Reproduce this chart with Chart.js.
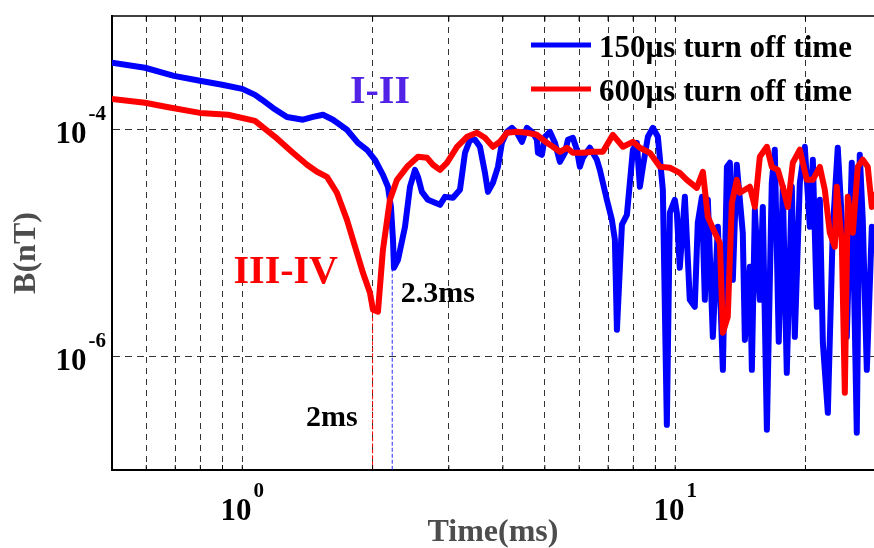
<!DOCTYPE html>
<html>
<head>
<meta charset="utf-8">
<script src="https://cdn.jsdelivr.net/npm/chart.js@4.4.1/dist/chart.umd.min.js"></script>
<style>
	html, body { margin: 0; padding: 0; background: #fff; }
	#wrap { width: 874px; height: 548px; }
</style>
</head>
<body>
<div id="wrap"><canvas id="decayChart" width="874" height="548"></canvas></div>
<script>
// series (time in ms, field in nT)
const seriesLabels = ['150\u00b5s turn off time', '600\u00b5s turn off time'];

const time150 = [0.5, 0.596, 0.695, 0.798, 0.898, 1.0, 1.07, 1.11, 1.177, 1.268, 1.381, 1.457, 1.536, 1.62, 1.745, 1.85, 1.941, 2.025, 2.113, 2.17, 2.205, 2.229, 2.241, 2.289, 2.376, 2.44, 2.506, 2.546, 2.6, 2.685, 2.862, 2.939, 3.067, 3.183, 3.269, 3.357, 3.448, 3.54, 3.636, 3.694, 3.793, 3.896, 3.979, 4.086, 4.197, 4.31, 4.426, 4.545, 4.693, 4.793, 4.819, 4.922, 5.002, 5.136, 5.275, 5.417, 5.563, 5.652, 5.804, 5.929, 6.024, 6.121, 6.353, 6.594, 6.7, 6.955, 7.142, 7.257, 7.336, 7.454, 7.534, 7.736, 7.987, 8.158, 8.289, 8.423, 8.65, 8.883, 9.121, 9.367, 9.568, 9.723, 9.98, 10.09, 10.25, 10.53, 10.81, 11.1, 11.28, 11.53, 11.71, 11.9, 12.22, 12.55, 12.89, 13.17, 13.38, 13.59, 13.88, 14.33, 14.49, 14.88, 15.04, 15.28, 15.69, 15.94, 16.29, 16.72, 16.99, 17.35, 17.73, 18.11, 18.6, 18.9, 19.41, 19.93, 20.47, 20.8, 21.25, 21.59, 21.94, 22.53, 23.13, 23.75, 24.27, 24.92, 25.59, 26.28, 26.7, 27.13, 27.72, 28.47, 28.8];
const field150 = [3.87e-4, 3.5e-4, 2.97e-4, 2.69e-4, 2.48e-4, 2.28e-4, 2.02e-4, 1.83e-4, 1.55e-4, 1.29e-4, 1.22e-4, 1.29e-4, 1.35e-4, 1.22e-4, 9.94e-5, 7.63e-5, 6.63e-5, 5.41e-5, 3.99e-5, 3.13e-5, 2.08e-5, 1.07e-5, 6.05e-6, 7.11e-6, 1.39e-5, 3.13e-5, 4.41e-5, 3.83e-5, 2.82e-5, 2.4e-5, 2.17e-5, 2.55e-5, 2.5e-5, 2.94e-5, 6.23e-5, 8.11e-5, 8.11e-5, 7.04e-5, 4.15e-5, 2.82e-5, 3.39e-5, 4.69e-5, 7.63e-5, 9.54e-5, 1.035e-4, 9.35e-5, 7.79e-5, 1.035e-4, 9.35e-5, 8.11e-5, 6.23e-5, 5.99e-5, 8.62e-5, 9.54e-5, 7.63e-5, 5.19e-5, 6.23e-5, 8.11e-5, 8.45e-5, 6.63e-5, 4.69e-5, 5.63e-5, 6.9e-5, 5.41e-5, 4.41e-5, 2.4e-5, 1.6e-5, 1.07e-5, 1.72e-6, 6.17e-6, 1.45e-5, 1.77e-5, 6.63e-5, 7.63e-5, 3.13e-5, 4.69e-5, 8.62e-5, 1.035e-4, 8.62e-5, 2.94e-5, 2.5e-7, 1.85e-5, 2.4e-5, 1.85e-5, 6.05e-6, 2.55e-5, 3.16e-6, 2.74e-6, 1.51e-5, 2.55e-5, 3.16e-6, 2.4e-5, 1.49e-6, 1.39e-5, 7.63e-7, 4.69e-5, 5.09e-5, 4.74e-6, 4.89e-5, 1.23e-5, 1.4e-6, 6.17e-6, 7.63e-7, 1.96e-5, 3.16e-6, 2.08e-5, 2.26e-7, 3.39e-5, 6.63e-5, 1.35e-6, 3.13e-5, 7.18e-7, 3.13e-5, 1.49e-6, 3.39e-5, 7.04e-5, 1.39e-5, 5.41e-5, 2.74e-6, 2.4e-5, 1.32e-6, 3.19e-7, 1.31e-5, 6.9e-5, 1.6e-5, 1.49e-6, 5.09e-5, 2.13e-7, 5.99e-5, 1.6e-5, 7.63e-7, 1.39e-5, 8.71e-6];

const time600 = [0.5, 0.596, 0.67, 0.798, 0.927, 1.07, 1.19, 1.309, 1.411, 1.488, 1.569, 1.654, 1.745, 1.84, 1.9, 1.972, 2.004, 2.058, 2.113, 2.193, 2.277, 2.402, 2.546, 2.671, 2.757, 2.862, 2.97, 3.133, 3.304, 3.484, 3.636, 3.793, 3.937, 4.086, 4.31, 4.545, 4.793, 5.055, 5.219, 5.417, 5.622, 5.804, 6.121, 6.455, 6.808, 7.18, 7.574, 7.987, 8.289, 8.742, 9.219, 9.723, 10.25, 10.64, 11.22, 11.59, 11.9, 12.35, 12.69, 12.89, 13.23, 13.52, 13.88, 14.11, 14.88, 15.28, 15.69, 16.29, 16.72, 17.27, 17.73, 18.21, 18.7, 19.41, 20.15, 20.8, 21.59, 22.17, 22.77, 23.38, 23.62, 24.27, 24.66, 25.05, 25.73, 26.42, 27.13, 27.86, 28.47, 28.8];
const field600 = [1.86e-4, 1.72e-4, 1.58e-4, 1.4e-4, 1.35e-4, 1.19e-4, 8.62e-5, 6.23e-5, 4.89e-5, 4.24e-5, 3.83e-5, 2.77e-5, 1.6e-5, 8.2e-6, 5.46e-6, 3.64e-6, 2.58e-6, 2.48e-6, 8.71e-6, 2.4e-5, 3.6e-5, 4.69e-5, 5.75e-5, 5.63e-5, 4.89e-5, 4.41e-5, 5.09e-5, 7.04e-5, 8.62e-5, 9.35e-5, 8.45e-5, 7.04e-5, 7.79e-5, 9.35e-5, 9.54e-5, 9.35e-5, 8.98e-5, 7.63e-5, 7.04e-5, 6.36e-5, 6.9e-5, 6.23e-5, 6.23e-5, 6.36e-5, 6.36e-5, 8.98e-5, 7.04e-5, 7.79e-5, 6.9e-5, 6.23e-5, 4.69e-5, 4.6e-5, 4.15e-5, 3.6e-5, 3.06e-5, 4.24e-5, 1.7e-5, 1.23e-5, 1.0e-5, 1.62e-6, 2.24e-6, 2.26e-5, 3.6e-5, 2.77e-5, 3.13e-5, 2.08e-5, 5.75e-5, 7.04e-5, 4.69e-5, 4.41e-5, 3.13e-5, 2.08e-5, 5.09e-5, 6.63e-5, 3.6e-5, 3.6e-5, 4.69e-5, 2.94e-5, 1.23e-5, 9.26e-6, 3.13e-5, 1.0e-5, 4.79e-7, 2.55e-5, 1.23e-5, 4.69e-5, 5.41e-5, 4.69e-5, 2.08e-5, 2.66e-5];

// axes
const xRange = [0.5, 28.8];
const yRange = [1e-7, 1e-3];
const xGridTicks = [0.6, 0.7, 0.8, 0.9, 1, 2, 3, 4, 5, 6, 7, 8, 9, 10, 20];
const yGridTicks = [1e-6, 1e-4];
const xLabelExps = [0, 1];
const yLabelExps = [-4, -6];

// turning points marked on the plot
const markTimes = [2.0, 2.22];
const markFields = [2.5e-6, 6.05e-6];
const markColors = ['#ff0000', '#2a2aff'];

const noteTexts = ['I-II', 'III-IV', '2.3ms', '2ms'];
const noteTimes = [2.08, 1.26, 2.83, 1.61];
const noteFields = [1.72e-4, 4.46e-6, 3.03e-6, 2.45e-7];
const noteColors = ['#5222e6', '#ff0000', '#000000', '#000000'];
const noteSizes = [40, 40, 30, 30];

const SERIF = "'Liberation Serif', 'Times New Roman', serif";

function toPoints(xs, ys) {
	return xs.map((x, i) => ({ x: x, y: ys[i] }));
}

const overlay = {
	id: 'overlay',
	beforeDatasetsDraw(chart) {
		const { ctx, chartArea, scales } = chart;
		ctx.save();
		ctx.lineWidth = 1;
		ctx.setLineDash([4, 2]);
		markTimes.forEach((t, i) => {
			const px = scales.x.getPixelForValue(t);
			ctx.strokeStyle = markColors[i];
			ctx.beginPath();
			ctx.moveTo(px, scales.y.getPixelForValue(markFields[i]));
			ctx.lineTo(px, chartArea.bottom);
			ctx.stroke();
		});
		ctx.restore();
	},
	afterDraw(chart) {
		const { ctx, chartArea, scales } = chart;
		ctx.save();

		// top frame line + inward ticks
		ctx.strokeStyle = '#000';
		ctx.lineWidth = 1.5;
		ctx.beginPath();
		ctx.moveTo(chartArea.left, chartArea.top);
		ctx.lineTo(chartArea.right, chartArea.top);
		ctx.stroke();
		ctx.lineWidth = 1;
		xGridTicks.forEach((v) => {
			const px = scales.x.getPixelForValue(v);
			ctx.beginPath();
			ctx.moveTo(px, chartArea.top);
			ctx.lineTo(px, chartArea.top + 5);
			ctx.moveTo(px, chartArea.bottom);
			ctx.lineTo(px, chartArea.bottom - 5);
			ctx.stroke();
		});

		// tick labels as powers of ten
		ctx.fillStyle = '#000';
		ctx.textBaseline = 'alphabetic';
		ctx.textAlign = 'left';
		xLabelExps.forEach((e) => {
			const px = scales.x.getPixelForValue(Math.pow(10, e));
			ctx.font = 'bold 31px ' + SERIF;
			const w1 = ctx.measureText('10').width;
			ctx.font = 'bold 21px ' + SERIF;
			const w2 = ctx.measureText(String(e)).width;
			const x0 = px - (w1 + 2 + w2) / 2;
			ctx.font = 'bold 31px ' + SERIF;
			ctx.fillText('10', x0, chartArea.bottom + 50);
			ctx.font = 'bold 21px ' + SERIF;
			ctx.fillText(String(e), x0 + w1 + 2, chartArea.bottom + 27);
		});
		yLabelExps.forEach((e) => {
			const py = scales.y.getPixelForValue(Math.pow(10, e));
			const end = chartArea.left - 6;
			ctx.font = 'bold 21px ' + SERIF;
			const w2 = ctx.measureText(String(e)).width;
			ctx.fillText(String(e), end - w2, py - 10);
			ctx.font = 'bold 31px ' + SERIF;
			const w1 = ctx.measureText('10').width;
			ctx.fillText('10', end - w2 - 2 - w1, py + 13);
		});

		// axis titles
		ctx.fillStyle = '#4d4d4d';
		ctx.font = 'bold 32px ' + SERIF;
		ctx.textAlign = 'center';
		ctx.fillText('Time(ms)', (chartArea.left + chartArea.right) / 2, chartArea.bottom + 71);
		ctx.save();
		ctx.translate(35, 253);
		ctx.rotate(-Math.PI / 2);
		ctx.fillText('B(nT)', 0, 0);
		ctx.restore();

		// notes
		noteTexts.forEach((txt, i) => {
			ctx.fillStyle = noteColors[i];
			ctx.font = 'bold ' + noteSizes[i] + 'px ' + SERIF;
			ctx.fillText(txt, scales.x.getPixelForValue(noteTimes[i]), scales.y.getPixelForValue(noteFields[i]));
		});

		// legend
		ctx.textAlign = 'left';
		ctx.font = 'bold 31px ' + SERIF;
		chart.data.datasets.forEach((ds, i) => {
			const ly = chartArea.top + 29 + i * 44;
			ctx.strokeStyle = ds.borderColor;
			ctx.lineWidth = 5;
			ctx.setLineDash([]);
			ctx.beginPath();
			ctx.moveTo(chartArea.right - 343, ly);
			ctx.lineTo(chartArea.right - 283, ly);
			ctx.stroke();
			ctx.fillStyle = '#000';
			ctx.fillText(ds.label, chartArea.right - 275, ly + 12);
		});
		ctx.restore();
	},
};

window.addEventListener('DOMContentLoaded', () => {
	const context = document.getElementById('decayChart').getContext('2d');
	const decayChart = new Chart(context, {
		type: 'line',
		data: {
			datasets: [{
				label: seriesLabels[0],
				data: toPoints(time150, field150),
				borderColor: '#0000ff',
				borderWidth: 6,
				borderJoinStyle: 'round',
				borderCapStyle: 'round',
				pointRadius: 0,
				tension: 0,
				order: 1,
			}, {
				label: seriesLabels[1],
				data: toPoints(time600, field600),
				borderColor: '#ff0000',
				borderWidth: 6,
				borderJoinStyle: 'round',
				borderCapStyle: 'round',
				pointRadius: 0,
				tension: 0,
				order: 0,
			}],
		},
		options: {
			responsive: false,
			animation: false,
			layout: {
				padding: { left: 112, top: 16, right: 0, bottom: 78 },
			},
			plugins: {
				legend: { display: false },
				tooltip: { enabled: false },
			},
			scales: {
				x: {
					type: 'logarithmic',
					min: xRange[0],
					max: xRange[1],
					afterBuildTicks: (scale) => {
						scale.ticks = xGridTicks.map((v) => ({ value: v }));
					},
					ticks: { display: false },
					grid: {
						color: 'rgba(0,0,0,0.8)',
						lineWidth: 1,
						drawTicks: false,
					},
					border: { display: true, color: '#000', width: 2, dash: [6, 5] },
				},
				y: {
					type: 'logarithmic',
					min: yRange[0],
					max: yRange[1],
					afterBuildTicks: (scale) => {
						scale.ticks = yGridTicks.map((v) => ({ value: v }));
					},
					ticks: { display: false },
					grid: {
						color: 'rgba(0,0,0,0.8)',
						lineWidth: 1,
						drawTicks: false,
					},
					border: { display: true, color: '#000', width: 2, dash: [7, 5] },
				},
			},
		},
		plugins: [overlay],
	});
});
</script>
</body>
</html>
